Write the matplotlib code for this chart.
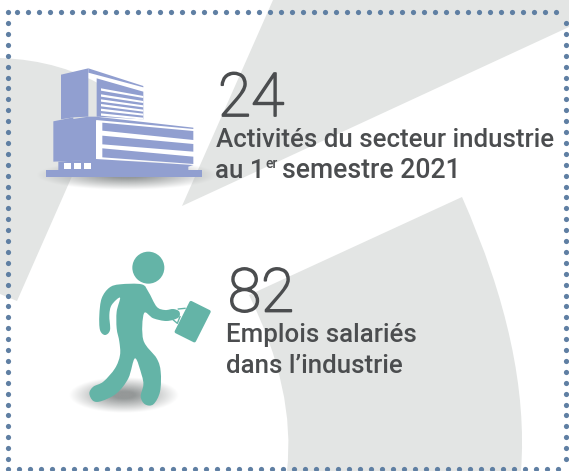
import matplotlib
matplotlib.use("Agg")
import matplotlib.pyplot as plt
from matplotlib.patches import Polygon, Circle, PathPatch
from matplotlib.path import Path
import matplotlib.patheffects as pe
import numpy as np

W, H = 569, 471
counts = ["24", "82"]
caption_a = ["Activités du secteur industrie", "au 1", "er", "semestre 2021"]
caption_b = ["Emplois salariés", "dans l’industrie"]

GREY = "#e3e5e4"; DOT = "#5f7fa3"; BLUE = "#919fd0"; TEAL = "#64b4a7"; TXT = "#4b4d4f"
plt.rcParams['font.family'] = ['Roboto', 'DejaVu Sans']

fig = plt.figure(figsize=(W/100, H/100), dpi=100)
ax = fig.add_axes([0, 0, 1, 1])

# background shapes
ax.add_patch(Polygon([(273,0),(182,206),(569,27),(569,0)], fc=GREY, lw=0))
ax.add_patch(PathPatch(Path([(0,58),(62,60),(110,90),(17,301),(0,294),(0,58)],
    [Path.MOVETO,Path.CURVE3,Path.CURVE3,Path.LINETO,Path.LINETO,Path.CLOSEPOLY]), fc=GREY, lw=0))
ax.add_patch(PathPatch(Path([(462,197),(530,350),(521,471),(287,471),(296,390),(249,295),(462,197)],
    [Path.MOVETO,Path.CURVE3,Path.CURVE3,Path.LINETO,Path.CURVE3,Path.CURVE3,Path.CLOSEPOLY]), fc=GREY, lw=0))

# dotted frame
xs = np.arange(27.7, 566, 11.0)
ax.scatter(np.r_[8, 17, xs], np.full(len(xs)+2, 12.3), s=14, c=DOT, lw=0)
ys = np.linspace(23, 459, 41)
ax.scatter(np.full(41, 8.5), ys, s=14, c=DOT, lw=0)
ax.scatter(np.full(41, 566.3), ys, s=14, c=DOT, lw=0)
xb = np.arange(8.3, 566, 11.0)
ax.scatter(xb, np.full(len(xb), 469.3), s=14, c=DOT, lw=0)

# soft shadows
def shadow(cx, cy, w, h, dark="#8f9393", strength=0.95):
    yy, xx = np.mgrid[-1:1:120j, -1:1:240j]
    r = np.clip(np.sqrt(xx**2+yy**2), 0, 1)
    rgba = np.zeros(r.shape+(4,))
    rgba[...,:3] = matplotlib.colors.to_rgb(dark)
    rgba[...,3] = strength*np.clip((1-r)*1.25, 0, 1)
    ax.imshow(rgba, extent=(cx-w/2, cx+w/2, cy+h/2, cy-h/2), zorder=2, aspect="auto", interpolation="bilinear")
shadow(127, 175, 182, 30)
shadow(124, 395, 110, 36)
ax.set_xlim(0, W); ax.set_ylim(H, 0); ax.axis("off")

def b(pts, c=BLUE, z=3):
    ax.add_patch(Polygon([(40+x/3, 60+y/3) for x, y in pts], fc=c, lw=0, zorder=z))
b([(18,330),(486,330),(486,352),(18,352)])
b([(63,44),(145,25),(145,170),(100,172),(63,178)])
b([(145,25),(310,78),(310,82),(145,38)])
b([(170,55),(310,95),(310,178),(170,170)])
for i, (l, r) in enumerate([(85,108),(103,123),(118,136),(132,149),(146,161),(160,173)]):
    b([(183,l),(310,r),(310,r+6),(183,l+7)], "white", 4)
b([(40,184),(100,172),(100,177),(145,170),(168,170),(168,300),(40,305)])
b([(168,170),(460,203),(460,207),(168,180)])
b([(187,188),(460,213),(460,240),(187,212)])
b([(187,227),(460,252),(460,275),(187,253)])
b([(187,265),(460,290),(460,312),(187,292)])
b([(168,297),(460,315),(445,320),(445,330),(55,330),(55,305)])
for x0 in (72,102,131):
    b([(x0,308),(x0+22,308),(x0+22,328),(x0,328)], "white", 4)

def catmull(pts):
    p = np.array(pts, float); n = len(p)
    verts = [p[0]]; codes = [Path.MOVETO]
    for i in range(n):
        p0, p1, p2, p3 = p[i-1], p[i], p[(i+1)%n], p[(i+2)%n]
        verts += [p1+(p2-p0)/6, p2-(p3-p1)/6, p2]
        codes += [Path.CURVE4]*3
    return Path(verts, codes)
body = [(215,118),(150,118),(118,128),(95,160),(88,210),(90,255),(105,270),(120,255),(118,210),(125,180),(150,158),
        (140,200),(140,250),(148,290),(150,330),(135,370),(100,410),(70,425),(58,445),(70,468),(95,468),(140,445),
        (175,400),(195,340),(215,390),(220,420),(212,455),(225,478),(250,478),(270,440),(272,380),(260,340),(220,285),
        (222,205),(250,220),(290,228),(325,218),(328,200),(310,192),(285,195),(260,185),(235,140)]
ax.add_patch(PathPatch(catmull([(70+x/3, 245+y/3) for x, y in body]), fc=TEAL, lw=0, zorder=3))
ax.add_patch(Circle((70+235/3, 245+68/3), 16, fc=TEAL, lw=0, zorder=3))
ax.add_patch(Polygon([(70+x/3, 245+y/3) for x, y in [(363,173),(417,200),(373,287),(319,260)]],
                     fc=TEAL, ec=TEAL, lw=2.5, joinstyle="round", zorder=3))
ax.plot([70+325/3, 70+345/3], [245+192/3, 245+190/3], color=TEAL, lw=1, zorder=3)
ax.plot([70+330/3, 70+322/3, 70+310/3], [245+215/3, 245+235/3, 245+225/3], color=TEAL, lw=1, zorder=3)

# text
thick = [pe.withStroke(linewidth=1.3, foreground=TXT)]
ax.text(218, 116, counts[0], fontsize=43.5, fontweight="light", color=TXT, path_effects=thick)
ax.text(228, 311.5, counts[1], fontsize=43.5, fontweight="light", color=TXT, path_effects=thick)
cap = dict(fontsize=18.6, fontweight="medium", color=TXT)
ax.text(216, 147, caption_a[0], **cap)
ax.text(215, 178, caption_a[1], **cap)
ax.text(265, 168, caption_a[2], fontsize=10, fontweight="medium", color=TXT)
ax.text(282, 178, caption_a[3], fontsize=19.2, fontweight="medium", color=TXT)
ax.text(226, 342, caption_b[0], **cap)
ax.text(226, 373, caption_b[1], **cap)

fig.savefig("out.png", dpi=100)
